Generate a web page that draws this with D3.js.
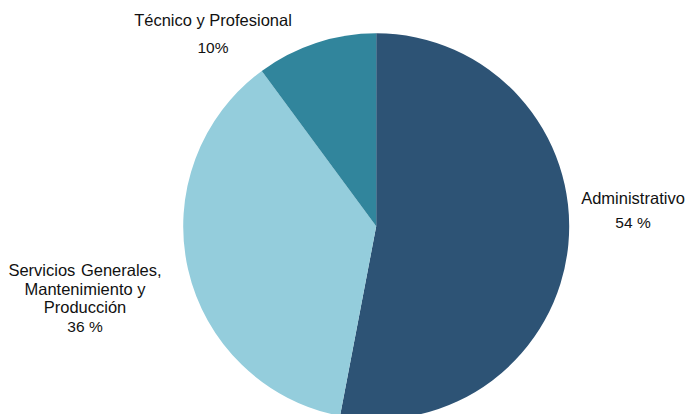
<!DOCTYPE html>
<html><head><meta charset="utf-8">
<script src="https://cdn.jsdelivr.net/npm/d3@7"></script>
<style>body{margin:0;background:#fff}text{font-family:"Liberation Sans",Arial,sans-serif;fill:#111}</style>
</head><body><svg id="c" width="687" height="414"></svg>
<script>
const categories = ["Administrativo", "Servicios Generales, Mantenimiento y Producción", "Técnico y Profesional"];
const values = [53.0, 36.9, 10.1];
const pctLabels = ["54 %", "36 %", "10%"];
const labelLines = [["Administrativo"], ["Servicios Generales,", "Mantenimiento y", "Producción"], ["Técnico y Profesional"]];
const colors = ["#2D5375", "#94CDDC", "#31859C"];

const svg = d3.select("#c");
const cx = 376.2, cy = 226.3, R = 193;
const pie = d3.pie().sort(null).value(d => d)(values);
const arc = d3.arc().innerRadius(0).outerRadius(R);
const g = svg.append("g").attr("transform", `translate(${cx},${cy})`);
g.selectAll("path").data(pie).join("path").attr("d", arc).attr("fill", (d,i) => colors[i]);

const labelPos = [
  {x: 633, y: 204, dy: 24},
  {x: 85, y: 276, dy: 18.5},
  {x: 213, y: 26, dy: 27}
];
labelPos.forEach((p, i) => {
  const t = svg.append("text").attr("text-anchor", "middle");
  const lines = labelLines[i].concat([pctLabels[i]]);
  lines.forEach((l, j) => {
    t.append("tspan").attr("x", p.x).attr("y", p.y + j * p.dy).text(l)
      .attr("font-size", j === lines.length-1 ? 15.5 : 16.5)
      .attr("word-spacing", i === 1 && j === 0 ? 1 : 0);
  });
});
</script></body></html>
